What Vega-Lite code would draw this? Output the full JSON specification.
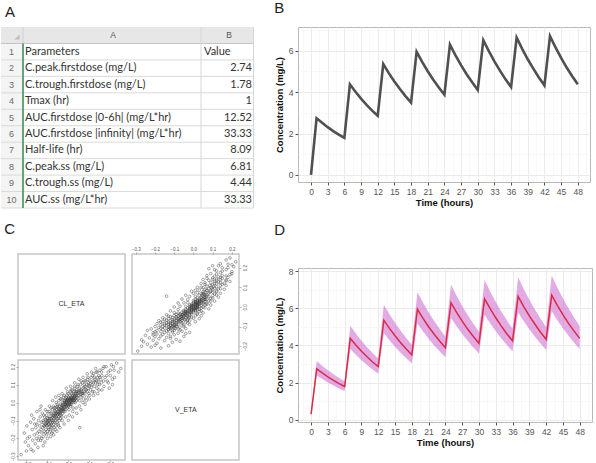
{
"$schema":"https://vega.github.io/schema/vega-lite/v6.json",
"background":"white",
"padding":{"left":0,"top":0,"right":0,"bottom":0},
"config":{"font":"Liberation Sans","view":{"stroke":"#b8b8b8"},"title":{"font":"Liberation Sans","fontSize":15,"fontWeight":"normal","anchor":"start","color":"#222222","baseline":"alphabetic"}},
"datasets":{
"tbl":[
{"row":1,"param":"Parameters","value":"Value"},
{"row":2,"param":"C.peak.firstdose (mg/L)","value":"2.74"},
{"row":3,"param":"C.trough.firstdose (mg/L)","value":"1.78"},
{"row":4,"param":"Tmax (hr)","value":"1"},
{"row":5,"param":"AUC.firstdose |0-6h| (mg/L*hr)","value":"12.52"},
{"row":6,"param":"AUC.firstdose |infinity| (mg/L*hr)","value":"33.33"},
{"row":7,"param":"Half-life (hr)","value":"8.09"},
{"row":8,"param":"C.peak.ss (mg/L)","value":"6.81"},
{"row":9,"param":"C.trough.ss (mg/L)","value":"4.44"},
{"row":10,"param":"AUC.ss (mg/L*hr)","value":"33.33"}],
"pk":[
{"t":0,"c":0,"cd":0.3,"lo":0.26,"hi":0.34},
{"t":1,"c":2.74,"cd":2.74,"lo":2.38,"hi":3.16},
{"t":2,"c":2.52,"cd":2.52,"lo":2.19,"hi":2.9},
{"t":3,"c":2.31,"cd":2.31,"lo":2.01,"hi":2.67},
{"t":4,"c":2.12,"cd":2.12,"lo":1.84,"hi":2.45},
{"t":5,"c":1.95,"cd":1.95,"lo":1.69,"hi":2.25},
{"t":6,"c":1.79,"cd":1.79,"lo":1.55,"hi":2.06},
{"t":7,"c":4.38,"cd":4.38,"lo":3.81,"hi":5.06},
{"t":8,"c":4.02,"cd":4.02,"lo":3.5,"hi":4.64},
{"t":9,"c":3.69,"cd":3.69,"lo":3.21,"hi":4.26},
{"t":10,"c":3.39,"cd":3.39,"lo":2.95,"hi":3.91},
{"t":11,"c":3.11,"cd":3.11,"lo":2.71,"hi":3.59},
{"t":12,"c":2.86,"cd":2.86,"lo":2.48,"hi":3.3},
{"t":13,"c":5.36,"cd":5.36,"lo":4.66,"hi":6.19},
{"t":14,"c":4.92,"cd":4.92,"lo":4.28,"hi":5.68},
{"t":15,"c":4.52,"cd":4.52,"lo":3.93,"hi":5.22},
{"t":16,"c":4.15,"cd":4.15,"lo":3.61,"hi":4.79},
{"t":17,"c":3.81,"cd":3.81,"lo":3.31,"hi":4.4},
{"t":18,"c":3.5,"cd":3.5,"lo":3.04,"hi":4.04},
{"t":19,"c":5.95,"cd":5.95,"lo":5.18,"hi":6.87},
{"t":20,"c":5.46,"cd":5.46,"lo":4.75,"hi":6.31},
{"t":21,"c":5.01,"cd":5.01,"lo":4.36,"hi":5.79},
{"t":22,"c":4.6,"cd":4.6,"lo":4.0,"hi":5.32},
{"t":23,"c":4.23,"cd":4.23,"lo":3.68,"hi":4.88},
{"t":24,"c":3.88,"cd":3.88,"lo":3.37,"hi":4.48},
{"t":25,"c":6.3,"cd":6.3,"lo":5.48,"hi":7.28},
{"t":26,"c":5.78,"cd":5.78,"lo":5.03,"hi":6.68},
{"t":27,"c":5.31,"cd":5.31,"lo":4.62,"hi":6.13},
{"t":28,"c":4.87,"cd":4.87,"lo":4.24,"hi":5.63},
{"t":29,"c":4.48,"cd":4.48,"lo":3.89,"hi":5.17},
{"t":30,"c":4.11,"cd":4.11,"lo":3.57,"hi":4.74},
{"t":31,"c":6.51,"cd":6.51,"lo":5.66,"hi":7.52},
{"t":32,"c":5.98,"cd":5.98,"lo":5.2,"hi":6.9},
{"t":33,"c":5.49,"cd":5.49,"lo":4.77,"hi":6.34},
{"t":34,"c":5.04,"cd":5.04,"lo":4.38,"hi":5.82},
{"t":35,"c":4.62,"cd":4.62,"lo":4.02,"hi":5.34},
{"t":36,"c":4.25,"cd":4.25,"lo":3.69,"hi":4.9},
{"t":37,"c":6.64,"cd":6.64,"lo":5.77,"hi":7.67},
{"t":38,"c":6.09,"cd":6.09,"lo":5.3,"hi":7.04},
{"t":39,"c":5.59,"cd":5.59,"lo":4.87,"hi":6.46},
{"t":40,"c":5.14,"cd":5.14,"lo":4.47,"hi":5.93},
{"t":41,"c":4.71,"cd":4.71,"lo":4.1,"hi":5.44},
{"t":42,"c":4.33,"cd":4.33,"lo":3.76,"hi":5.0},
{"t":43,"c":6.71,"cd":6.71,"lo":5.84,"hi":7.75},
{"t":44,"c":6.16,"cd":6.16,"lo":5.36,"hi":7.12},
{"t":45,"c":5.66,"cd":5.66,"lo":4.92,"hi":6.53},
{"t":46,"c":5.19,"cd":5.19,"lo":4.52,"hi":6.0},
{"t":47,"c":4.77,"cd":4.77,"lo":4.15,"hi":5.51},
{"t":48,"c":4.38,"cd":4.38,"lo":3.81,"hi":5.05}],
"eta":[
{"cl":-0.225,"v":-0.29},{"cl":-0.21,"v":-0.17},{"cl":-0.205,"v":-0.22},{"cl":-0.198,"v":-0.13},{"cl":-0.19,"v":-0.24},{"cl":-0.185,"v":-0.19},{"cl":-0.18,"v":-0.11},{"cl":-0.178,"v":-0.26},{"cl":-0.172,"v":-0.15},{"cl":-0.17,"v":-0.21},{"cl":-0.165,"v":-0.09},{"cl":-0.162,"v":-0.18},{"cl":-0.158,"v":-0.23},{"cl":-0.155,"v":-0.14},{"cl":-0.152,"v":-0.2},{"cl":-0.15,"v":-0.12},{"cl":-0.148,"v":-0.17},{"cl":-0.145,"v":-0.25},{"cl":-0.142,"v":-0.1},{"cl":-0.14,"v":-0.16},
{"cl":-0.138,"v":-0.19},{"cl":-0.136,"v":-0.13},{"cl":-0.134,"v":-0.08},{"cl":-0.132,"v":-0.21},{"cl":-0.13,"v":-0.15},{"cl":-0.128,"v":-0.11},{"cl":-0.126,"v":-0.17},{"cl":-0.124,"v":-0.06},{"cl":-0.122,"v":-0.14},{"cl":-0.12,"v":-0.19},{"cl":-0.119,"v":-0.1},{"cl":-0.117,"v":-0.13},{"cl":-0.115,"v":-0.16},{"cl":-0.113,"v":-0.08},{"cl":-0.112,"v":-0.22},{"cl":-0.11,"v":-0.12},{"cl":-0.108,"v":-0.15},{"cl":-0.106,"v":-0.1},{"cl":-0.105,"v":-0.18},{"cl":-0.103,"v":-0.07},{"cl":-0.102,"v":-0.13},{"cl":-0.1,"v":-0.11},{"cl":-0.099,"v":-0.16},{"cl":-0.097,"v":-0.09},{"cl":-0.096,"v":-0.14},{"cl":-0.094,"v":-0.12},{"cl":-0.093,"v":-0.05},{"cl":-0.091,"v":-0.17},{"cl":-0.09,"v":-0.1},{"cl":-0.088,"v":-0.13},{"cl":-0.087,"v":-0.08},{"cl":-0.085,"v":-0.15},{"cl":-0.084,"v":-0.11},{"cl":-0.083,"v":-0.03},{"cl":-0.082,"v":-0.12},{"cl":-0.081,"v":-0.09},{"cl":-0.08,"v":-0.14},{"cl":-0.08,"v":-0.06},{"cl":-0.079,"v":-0.1},
{"cl":-0.078,"v":-0.13},{"cl":-0.077,"v":-0.04},{"cl":-0.076,"v":-0.08},{"cl":-0.075,"v":-0.11},{"cl":-0.074,"v":-0.16},{"cl":-0.073,"v":-0.07},{"cl":-0.072,"v":-0.1},{"cl":-0.071,"v":-0.02},{"cl":-0.07,"v":-0.12},{"cl":-0.069,"v":-0.09},{"cl":-0.068,"v":-0.06},{"cl":-0.067,"v":-0.14},{"cl":-0.066,"v":-0.08},{"cl":-0.065,"v":-0.11},{"cl":-0.064,"v":-0.03},{"cl":-0.063,"v":-0.07},{"cl":-0.062,"v":-0.1},{"cl":-0.061,"v":-0.05},{"cl":-0.06,"v":-0.13},{"cl":-0.059,"v":-0.08},{"cl":-0.058,"v":0.0},{"cl":-0.057,"v":-0.06},{"cl":-0.056,"v":-0.09},{"cl":-0.055,"v":-0.04},{"cl":-0.054,"v":-0.11},{"cl":-0.053,"v":-0.07},{"cl":-0.052,"v":-0.02},{"cl":-0.051,"v":-0.05},{"cl":-0.05,"v":-0.09},{"cl":-0.049,"v":-0.12},{"cl":-0.048,"v":-0.03},{"cl":-0.047,"v":-0.06},{"cl":-0.046,"v":-0.08},{"cl":-0.045,"v":0.01},{"cl":-0.044,"v":-0.05},{"cl":-0.043,"v":-0.1},{"cl":-0.042,"v":-0.04},{"cl":-0.041,"v":-0.07},{"cl":-0.04,"v":-0.02},{"cl":-0.039,"v":-0.06},{"cl":-0.038,"v":-0.09},{"cl":-0.037,"v":-0.01},{"cl":-0.036,"v":-0.04},{"cl":-0.035,"v":-0.07},{"cl":-0.034,"v":0.02},{"cl":-0.033,"v":-0.03},{"cl":-0.032,"v":-0.05},{"cl":-0.031,"v":-0.08},{"cl":-0.03,"v":-0.02},{"cl":-0.029,"v":-0.04},{"cl":-0.028,"v":0.0},{"cl":-0.027,"v":-0.06},{"cl":-0.026,"v":-0.03},{"cl":-0.025,"v":-0.01},{"cl":-0.024,"v":-0.05},{"cl":-0.023,"v":0.03},{"cl":-0.022,"v":-0.02},{"cl":-0.021,"v":-0.04},{"cl":-0.02,"v":0.0},
{"cl":-0.019,"v":-0.03},{"cl":-0.018,"v":0.01},{"cl":-0.017,"v":-0.05},{"cl":-0.016,"v":-0.01},{"cl":-0.015,"v":0.02},{"cl":-0.014,"v":-0.02},{"cl":-0.013,"v":0.0},{"cl":-0.012,"v":-0.04},{"cl":-0.011,"v":0.03},{"cl":-0.01,"v":-0.01},{"cl":-0.009,"v":0.01},{"cl":-0.008,"v":-0.02},{"cl":-0.007,"v":0.04},{"cl":-0.006,"v":0.0},{"cl":-0.005,"v":-0.03},{"cl":-0.004,"v":0.02},{"cl":-0.003,"v":-0.01},{"cl":-0.002,"v":0.01},{"cl":-0.001,"v":0.05},{"cl":0.0,"v":-0.02},{"cl":0.001,"v":0.0},{"cl":0.002,"v":0.03},{"cl":0.003,"v":-0.04},{"cl":0.004,"v":0.01},{"cl":0.005,"v":0.02},{"cl":0.006,"v":-0.01},{"cl":0.007,"v":0.04},{"cl":0.008,"v":0.0},{"cl":0.009,"v":0.02},{"cl":0.01,"v":-0.02},{"cl":0.011,"v":0.06},{"cl":0.012,"v":0.01},{"cl":0.013,"v":0.03},{"cl":0.014,"v":-0.01},{"cl":0.015,"v":0.02},{"cl":0.016,"v":0.05},{"cl":0.017,"v":0.0},{"cl":0.018,"v":0.03},{"cl":0.019,"v":0.07},{"cl":0.02,"v":0.01},{"cl":0.021,"v":0.04},{"cl":0.022,"v":-0.03},{"cl":0.023,"v":0.02},{"cl":0.024,"v":0.05},{"cl":0.025,"v":0.0},{"cl":0.026,"v":0.03},{"cl":0.027,"v":0.06},{"cl":0.028,"v":0.01},{"cl":0.029,"v":0.04},{"cl":0.03,"v":0.02},{"cl":0.031,"v":0.08},{"cl":0.032,"v":0.03},{"cl":0.033,"v":0.0},{"cl":0.034,"v":0.05},{"cl":0.035,"v":0.02},{"cl":0.036,"v":0.06},{"cl":0.037,"v":0.04},{"cl":0.038,"v":0.01},{"cl":0.039,"v":0.07},
{"cl":0.04,"v":0.03},{"cl":0.042,"v":0.05},{"cl":0.044,"v":0.09},{"cl":0.046,"v":0.02},{"cl":0.048,"v":0.06},{"cl":0.05,"v":0.04},{"cl":0.052,"v":0.08},{"cl":0.054,"v":0.01},{"cl":0.055,"v":-0.14},{"cl":0.056,"v":0.06},{"cl":0.058,"v":0.1},{"cl":0.06,"v":0.03},{"cl":0.062,"v":0.07},{"cl":0.064,"v":0.05},{"cl":0.066,"v":0.11},{"cl":0.068,"v":0.04},{"cl":0.07,"v":0.08},{"cl":0.072,"v":0.02},{"cl":0.074,"v":0.06},{"cl":0.076,"v":0.1},{"cl":0.078,"v":0.05},{"cl":0.08,"v":0.09},{"cl":0.082,"v":0.12},{"cl":0.084,"v":0.07},{"cl":0.086,"v":0.03},{"cl":0.088,"v":0.1},{"cl":0.09,"v":0.06},{"cl":0.092,"v":0.13},{"cl":0.094,"v":0.08},{"cl":0.096,"v":0.11},{"cl":0.098,"v":0.05},
{"cl":0.1,"v":0.09},{"cl":0.103,"v":0.12},{"cl":0.106,"v":0.07},{"cl":0.109,"v":0.14},{"cl":0.112,"v":0.1},{"cl":0.115,"v":0.06},{"cl":0.118,"v":0.12},{"cl":0.121,"v":0.16},{"cl":0.124,"v":0.09},{"cl":0.127,"v":0.13},{"cl":0.13,"v":0.11},{"cl":0.133,"v":0.17},{"cl":0.136,"v":0.08},{"cl":0.139,"v":0.14},{"cl":0.142,"v":0.12},{"cl":0.145,"v":0.15},{"cl":0.148,"v":0.1},{"cl":0.151,"v":0.18},{"cl":0.154,"v":0.13},{"cl":0.157,"v":0.11},
{"cl":0.16,"v":0.15},{"cl":0.165,"v":0.19},{"cl":0.17,"v":0.09},{"cl":0.175,"v":0.14},{"cl":0.18,"v":0.2},{"cl":0.185,"v":0.12},{"cl":0.19,"v":0.17},{"cl":0.195,"v":0.08},{"cl":0.2,"v":0.15},{"cl":0.205,"v":0.21},{"cl":0.21,"v":0.1},{"cl":0.218,"v":0.18},{"cl":0.23,"v":0.22},{"cl":0.24,"v":0.17},{"cl":0.215,"v":0.2},
{"cl":-0.105,"v":-0.115},{"cl":-0.098,"v":-0.105},{"cl":-0.11,"v":-0.095},{"cl":-0.092,"v":-0.12},{"cl":-0.1,"v":-0.085},{"cl":-0.115,"v":-0.13},{"cl":-0.095,"v":-0.1},{"cl":-0.088,"v":-0.09},{"cl":-0.12,"v":-0.11},{"cl":-0.107,"v":-0.125},
{"cl":-0.01,"v":0.005},{"cl":0.005,"v":-0.005},{"cl":-0.005,"v":0.015},{"cl":0.012,"v":0.008},{"cl":-0.015,"v":-0.01},{"cl":0.0,"v":0.02},{"cl":0.018,"v":0.015},{"cl":-0.02,"v":0.01},{"cl":0.008,"v":-0.012},{"cl":0.015,"v":0.025},{"cl":-0.008,"v":-0.018},{"cl":0.025,"v":0.012},{"cl":0.03,"v":0.035},{"cl":0.045,"v":0.04},{"cl":0.05,"v":0.055},{"cl":0.06,"v":0.045},{"cl":0.055,"v":0.07},{"cl":0.065,"v":0.06},{"cl":0.07,"v":0.05},{"cl":0.04,"v":0.06},
{"cl":0.075,"v":0.085},{"cl":0.085,"v":0.07},{"cl":0.095,"v":0.095},{"cl":0.105,"v":0.105},{"cl":0.11,"v":0.085},{"cl":0.12,"v":0.11},{"cl":0.125,"v":0.14},{"cl":0.135,"v":0.12},{"cl":0.14,"v":0.1},{"cl":0.15,"v":0.14},
{"cl":-0.06,"v":-0.06},{"cl":-0.05,"v":-0.065},{"cl":-0.045,"v":-0.035},{"cl":-0.07,"v":-0.075},{"cl":-0.035,"v":-0.045},{"cl":-0.055,"v":-0.025},{"cl":-0.065,"v":-0.045},{"cl":-0.04,"v":-0.055},{"cl":-0.03,"v":-0.015},{"cl":-0.025,"v":-0.035},
{"cl":-0.15,"v":-0.05},{"cl":-0.13,"v":-0.02},{"cl":-0.12,"v":-0.24},{"cl":-0.11,"v":-0.04},{"cl":-0.1,"v":-0.2},{"cl":-0.09,"v":-0.02},{"cl":-0.085,"v":-0.19},{"cl":-0.075,"v":0.01},{"cl":-0.07,"v":-0.18},{"cl":-0.06,"v":0.03},{"cl":-0.055,"v":-0.16},{"cl":-0.045,"v":0.04},{"cl":-0.04,"v":-0.14},{"cl":-0.03,"v":0.05},{"cl":-0.02,"v":-0.12},{"cl":-0.01,"v":0.08},{"cl":0.0,"v":-0.1},{"cl":0.01,"v":0.09},{"cl":0.02,"v":-0.08},{"cl":0.03,"v":0.11},{"cl":0.04,"v":-0.06},{"cl":0.05,"v":0.13},{"cl":0.06,"v":-0.04},{"cl":0.07,"v":0.14},{"cl":0.08,"v":-0.01},{"cl":0.09,"v":0.16},{"cl":0.1,"v":0.02},{"cl":0.11,"v":0.17},{"cl":0.12,"v":0.04},{"cl":0.13,"v":0.19},{"cl":0.14,"v":0.05},{"cl":0.16,"v":0.07},{"cl":0.17,"v":0.2},{"cl":0.19,"v":0.11},{"cl":0.22,"v":0.14},{"cl":0.25,"v":0.19},
{"cl":-0.2,"v":-0.27},{"cl":-0.195,"v":-0.2},{"cl":-0.175,"v":-0.07},{"cl":-0.168,"v":-0.27},{"cl":-0.16,"v":-0.12},{"cl":-0.143,"v":-0.21},{"cl":-0.135,"v":-0.04},{"cl":-0.127,"v":-0.2},{"cl":-0.118,"v":-0.07},{"cl":-0.109,"v":-0.17},{"cl":-0.101,"v":-0.05},{"cl":-0.093,"v":-0.15},{"cl":-0.086,"v":-0.06},{"cl":-0.078,"v":-0.17},{"cl":-0.069,"v":-0.03},{"cl":-0.062,"v":-0.15},{"cl":-0.053,"v":-0.01},{"cl":-0.047,"v":-0.13},{"cl":-0.038,"v":0.02},{"cl":-0.029,"v":-0.1},{"cl":-0.021,"v":0.04},{"cl":-0.013,"v":-0.08},{"cl":-0.004,"v":0.06},{"cl":0.004,"v":-0.07},{"cl":0.013,"v":0.07},{"cl":0.021,"v":-0.05},{"cl":0.029,"v":0.09},{"cl":0.037,"v":-0.03},{"cl":0.045,"v":0.1},{"cl":0.053,"v":-0.02},{"cl":0.061,"v":0.12},{"cl":0.069,"v":0.0},{"cl":0.077,"v":0.12},{"cl":0.085,"v":0.01},{"cl":0.093,"v":0.14},{"cl":0.101,"v":0.04},{"cl":0.115,"v":0.15},{"cl":0.123,"v":0.06},{"cl":0.138,"v":0.17},{"cl":0.146,"v":0.07},{"cl":0.158,"v":0.17},{"cl":0.168,"v":0.12},{"cl":0.183,"v":0.15},{"cl":0.2,"v":0.18},{"cl":0.21,"v":0.13}]
},
"bounds":"flush",
"spacing":280,
"hconcat":[
{"vconcat":[
 {"title":{"text":"A","offset":7,"dx":-13,"frame":"group"},
  "width":236,"height":181,
  "view":{"stroke":null},
  "data":{"name":"tbl"},
  "layer":[
   {"data":{"values":[{}]},"mark":{"type":"rect","color":"#e7e7e7"},
    "encoding":{"x":{"datum":0,"type":"quantitative","scale":{"domain":[17,253],"nice":false,"zero":false},"axis":null},"x2":{"datum":253},
                "y":{"datum":-0.5,"type":"quantitative","scale":{"domain":[-0.5,10.5],"nice":false,"zero":false,"reverse":true},"axis":null},"y2":{"datum":0.5}}},
   {"data":{"values":[{}]},"mark":{"type":"rect","color":"#f4f4f4"},
    "encoding":{"x":{"datum":0,"type":"quantitative","scale":{"domain":[17,253],"nice":false,"zero":false},"axis":null},"x2":{"datum":22},
                "y":{"datum":0.5,"type":"quantitative","scale":{"domain":[-0.5,10.5],"nice":false,"zero":false,"reverse":true},"axis":null},"y2":{"datum":10.5}}},
   {"mark":{"type":"rule","color":"#dadada","strokeWidth":1,"yOffset":8.24},
    "encoding":{"x":{"datum":0,"type":"quantitative","scale":{"domain":[17,253],"nice":false,"zero":false},"axis":null},"x2":{"datum":253},
                "y":{"field":"row","type":"quantitative","scale":{"domain":[-0.5,10.5],"nice":false,"zero":false,"reverse":true},"axis":null}}},
   {"data":{"values":[{}]},"mark":{"type":"rule","color":"#c4c4c4","strokeWidth":1},
    "encoding":{"x":{"datum":0,"type":"quantitative","scale":{"domain":[17,253],"nice":false,"zero":false},"axis":null},"x2":{"datum":253},
                "y":{"datum":0.5,"type":"quantitative","scale":{"domain":[-0.5,10.5],"nice":false,"zero":false,"reverse":true},"axis":null}}},
   {"data":{"values":[{}]},"mark":{"type":"rule","color":"#d6d6d6","strokeWidth":1},
    "encoding":{"x":{"datum":200,"type":"quantitative","scale":{"domain":[17,253],"nice":false,"zero":false},"axis":null},
                "y":{"datum":-0.5,"type":"quantitative","scale":{"domain":[-0.5,10.5],"nice":false,"zero":false,"reverse":true},"axis":null},"y2":{"datum":10.5}}},
   {"data":{"values":[{}]},"mark":{"type":"rule","color":"#d6d6d6","strokeWidth":1},
    "encoding":{"x":{"datum":252.5,"type":"quantitative","scale":{"domain":[17,253],"nice":false,"zero":false},"axis":null},
                "y":{"datum":-0.5,"type":"quantitative","scale":{"domain":[-0.5,10.5],"nice":false,"zero":false,"reverse":true},"axis":null},"y2":{"datum":10.5}}},
   {"data":{"values":[{}]},"mark":{"type":"rule","color":"#d0d0d0","strokeWidth":1},
    "encoding":{"x":{"datum":22,"type":"quantitative","scale":{"domain":[17,253],"nice":false,"zero":false},"axis":null},
                "y":{"datum":-0.5,"type":"quantitative","scale":{"domain":[-0.5,10.5],"nice":false,"zero":false,"reverse":true},"axis":null},"y2":{"datum":0.5}}},
   {"data":{"values":[{}]},"mark":{"type":"rule","color":"#3f8f5c","strokeWidth":1.6},
    "encoding":{"x":{"datum":22,"type":"quantitative","scale":{"domain":[17,253],"nice":false,"zero":false},"axis":null},
                "y":{"datum":0.5,"type":"quantitative","scale":{"domain":[-0.5,10.5],"nice":false,"zero":false,"reverse":true},"axis":null},"y2":{"datum":10.5}}},
   {"data":{"values":[{}]},"mark":{"type":"point","shape":"M1,-1L1,1L-1,1Z","filled":true,"color":"#c2c2c2","size":30,"opacity":1},
    "encoding":{"x":{"datum":16,"type":"quantitative","scale":{"domain":[17,253],"nice":false,"zero":false},"axis":null},
                "y":{"datum":0.1,"type":"quantitative","scale":{"domain":[-0.5,10.5],"nice":false,"zero":false,"reverse":true},"axis":null}}},
   {"data":{"values":[{}]},"mark":{"type":"text","text":"A","font":"Liberation Sans","fontSize":8.5,"color":"#555555","align":"center","baseline":"middle"},
    "encoding":{"x":{"datum":112,"type":"quantitative","scale":{"domain":[17,253],"nice":false,"zero":false},"axis":null},
                "y":{"datum":0,"type":"quantitative","scale":{"domain":[-0.5,10.5],"nice":false,"zero":false,"reverse":true},"axis":null}}},
   {"data":{"values":[{}]},"mark":{"type":"text","text":"B","font":"Liberation Sans","fontSize":8.5,"color":"#555555","align":"center","baseline":"middle"},
    "encoding":{"x":{"datum":228,"type":"quantitative","scale":{"domain":[17,253],"nice":false,"zero":false},"axis":null},
                "y":{"datum":0,"type":"quantitative","scale":{"domain":[-0.5,10.5],"nice":false,"zero":false,"reverse":true},"axis":null}}},
   {"mark":{"type":"text","font":"Liberation Sans","fontSize":9,"color":"#6a6a6a","align":"center","baseline":"middle"},
    "encoding":{"x":{"datum":10.5,"type":"quantitative","scale":{"domain":[17,253],"nice":false,"zero":false},"axis":null},
                "y":{"field":"row","type":"quantitative","scale":{"domain":[-0.5,10.5],"nice":false,"zero":false,"reverse":true},"axis":null},
                "text":{"field":"row"}}},
   {"mark":{"type":"text","font":"Lato","fontSize":11,"color":"#333333","align":"left","baseline":"middle"},
    "encoding":{"x":{"datum":24,"type":"quantitative","scale":{"domain":[17,253],"nice":false,"zero":false},"axis":null},
                "y":{"field":"row","type":"quantitative","scale":{"domain":[-0.5,10.5],"nice":false,"zero":false,"reverse":true},"axis":null},
                "text":{"field":"param"}}},
   {"transform":[{"filter":"datum.row > 1"}],
    "mark":{"type":"text","font":"Lato","fontSize":11,"color":"#333333","align":"right","baseline":"middle"},
    "encoding":{"x":{"datum":251,"type":"quantitative","scale":{"domain":[17,253],"nice":false,"zero":false},"axis":null},
                "y":{"field":"row","type":"quantitative","scale":{"domain":[-0.5,10.5],"nice":false,"zero":false,"reverse":true},"axis":null},
                "text":{"field":"value"}}},
   {"transform":[{"filter":"datum.row == 1"}],
    "mark":{"type":"text","font":"Lato","fontSize":11,"color":"#333333","align":"left","baseline":"middle"},
    "encoding":{"x":{"datum":203,"type":"quantitative","scale":{"domain":[17,253],"nice":false,"zero":false},"axis":null},
                "y":{"field":"row","type":"quantitative","scale":{"domain":[-0.5,10.5],"nice":false,"zero":false,"reverse":true},"axis":null},
                "text":{"field":"value"}}}
  ]},
 {"title":{"text":"C","offset":8,"dx":4},
  "columns":2,"spacing":4,
  "concat":[
   {"width":107,"height":100,"view":{"stroke":"#c6c6c6","strokeWidth":1.5},
    "data":{"values":[{}]},
    "mark":{"type":"text","text":"CL_ETA","font":"Liberation Sans","fontSize":7,"color":"#333333"},
    "encoding":{
     "x":{"datum":0.015,"type":"quantitative","scale":{"domain":[-0.24,0.27],"nice":false,"zero":false},
          "axis":{"orient":"top","values":[-0.2,-0.1,0,0.1,0.2],"format":".1f","title":null,"grid":false,"domain":false,"tickSize":2,"tickWidth":0.5,"tickOpacity":0,"labelOpacity":0,"labelFontSize":4.5,"labelPadding":1}},
     "y":{"datum":0.015,"type":"quantitative","scale":{"domain":[-0.24,0.27],"nice":false,"zero":false},
          "axis":{"orient":"left","values":[-0.2,-0.1,0,0.1,0.2],"format":".1f","title":"x","titleOpacity":0,"titleFontSize":6,"titlePadding":3,"grid":false,"domain":false,"tickSize":2,"tickWidth":0.5,"tickOpacity":0,"labelOpacity":0,"labelFontSize":4.5,"labelPadding":1,"labelAngle":270}}}},
   {"width":107,"height":100,"view":{"stroke":"#c6c6c6","strokeWidth":1.5},
    "data":{"name":"eta"},
    "mark":{"type":"point","filled":false,"color":"#333333","strokeWidth":0.5,"size":7,"opacity":0.85},
    "encoding":{
     "x":{"field":"v","type":"quantitative","scale":{"domain":[-0.32,0.237],"nice":false,"zero":false},
          "axis":{"orient":"top","values":[-0.3,-0.2,-0.1,0,0.1,0.2],"format":".1f","title":null,"grid":false,"domain":false,"tickSize":2,"tickWidth":0.5,"tickColor":"#777777","labelColor":"#555555","labelFontSize":4.5,"labelPadding":1}},
     "y":{"field":"cl","type":"quantitative","scale":{"domain":[-0.24,0.27],"nice":false,"zero":false},
          "axis":{"orient":"right","values":[-0.2,-0.1,0,0.1,0.2],"format":".1f","title":null,"grid":false,"domain":false,"tickSize":2,"tickWidth":0.5,"tickColor":"#777777","labelColor":"#555555","labelFontSize":4.5,"labelPadding":1,"labelAngle":270}}}},
   {"width":107,"height":100,"view":{"stroke":"#c6c6c6","strokeWidth":1.5},
    "data":{"name":"eta"},
    "mark":{"type":"point","filled":false,"color":"#333333","strokeWidth":0.5,"size":7,"opacity":0.85},
    "encoding":{
     "x":{"field":"cl","type":"quantitative","scale":{"domain":[-0.24,0.27],"nice":false,"zero":false},
          "axis":{"orient":"bottom","values":[-0.2,-0.1,0,0.1,0.2],"format":".1f","title":null,"grid":false,"domain":false,"tickSize":1.5,"tickWidth":0.5,"tickColor":"#777777","labelColor":"#555555","labelFontSize":4.5,"labelPadding":0}},
     "y":{"field":"v","type":"quantitative","scale":{"domain":[-0.32,0.237],"nice":false,"zero":false},
          "axis":{"orient":"left","values":[-0.3,-0.2,-0.1,0,0.1,0.2],"format":".1f","title":"x","titleOpacity":0,"titleFontSize":6,"titlePadding":3,"grid":false,"domain":false,"tickSize":2,"tickWidth":0.5,"tickColor":"#777777","labelColor":"#555555","labelFontSize":4.5,"labelPadding":1,"labelAngle":270}}}},
   {"width":107,"height":100,"view":{"stroke":"#c6c6c6","strokeWidth":1.5},
    "data":{"values":[{}]},
    "mark":{"type":"text","text":"V_ETA","font":"Liberation Sans","fontSize":7,"color":"#333333"},
    "encoding":{
     "x":{"datum":-0.04,"type":"quantitative","scale":{"domain":[-0.32,0.237],"nice":false,"zero":false},"axis":null},
     "y":{"datum":-0.04,"type":"quantitative","scale":{"domain":[-0.32,0.237],"nice":false,"zero":false},"axis":null}}}
  ]}
 ],"spacing":13},
{"vconcat":[
 {"title":{"text":"B","offset":11,"frame":"bounds"},
  "width":292,"height":155,
  "data":{"name":"pk"},
  "resolve":{"axis":{"x":"independent","y":"independent"}},
  "layer":[
   {"mark":{"type":"line","opacity":0},
    "encoding":{
     "x":{"field":"t","type":"quantitative","scale":{"domain":[-2.34,50.2],"nice":false,"zero":false},
          "axis":{"orient":"top","values":[-1.5,1.5,4.5,7.5,10.5,13.5,16.5,19.5,22.5,25.5,28.5,31.5,34.5,37.5,40.5,43.5,46.5,49.5],"grid":true,"gridColor":"#f3f3f3","gridWidth":0.6,"labels":false,"ticks":false,"domain":false,"title":null}},
     "y":{"field":"c","type":"quantitative","scale":{"domain":[-0.34,7.15],"nice":false,"zero":false},
          "axis":{"orient":"right","values":[1,3,5,7],"grid":true,"gridColor":"#f3f3f3","gridWidth":0.6,"labels":false,"ticks":false,"domain":false,"title":null}}}},
   {"mark":{"type":"line","color":"#505050","strokeWidth":2.6},
    "encoding":{
     "x":{"field":"t","type":"quantitative","scale":{"domain":[-2.34,50.2],"nice":false,"zero":false},
          "axis":{"values":[0,3,6,9,12,15,18,21,24,27,30,33,36,39,42,45,48],"title":"Time (hours)","grid":true,"gridColor":"#ebebeb","gridWidth":1,"domain":false,"tickColor":"#555555","tickSize":3,"labelColor":"#555555","labelFontSize":8.5,"labelPadding":2,"titleFontSize":9.5,"titleFontWeight":"bold","titleColor":"#111111","titlePadding":2}},
     "y":{"field":"c","type":"quantitative","scale":{"domain":[-0.34,7.15],"nice":false,"zero":false},
          "axis":{"values":[0,2,4,6],"title":"Concentration (mg/L)","grid":true,"gridColor":"#ebebeb","gridWidth":1,"domain":false,"tickColor":"#555555","tickSize":3,"labelColor":"#555555","labelFontSize":8.5,"labelPadding":2,"titleFontSize":9.5,"titleFontWeight":"bold","titleColor":"#111111","titlePadding":4}}}}
  ]},
 {"title":{"text":"D","offset":29,"frame":"bounds"},
  "width":294,"height":154,
  "data":{"name":"pk"},
  "resolve":{"axis":{"x":"independent","y":"independent"}},
  "layer":[
   {"mark":{"type":"line","opacity":0},
    "encoding":{
     "x":{"field":"t","type":"quantitative","scale":{"domain":[-2.34,50.2],"nice":false,"zero":false},
          "axis":{"orient":"top","values":[-1.5,1.5,4.5,7.5,10.5,13.5,16.5,19.5,22.5,25.5,28.5,31.5,34.5,37.5,40.5,43.5,46.5,49.5],"grid":true,"gridColor":"#f3f3f3","gridWidth":0.6,"labels":false,"ticks":false,"domain":false,"title":null}},
     "y":{"field":"cd","type":"quantitative","scale":{"domain":[-0.12,8.17],"nice":false,"zero":false},
          "axis":{"orient":"right","values":[1,3,5,7],"grid":true,"gridColor":"#f3f3f3","gridWidth":0.6,"labels":false,"ticks":false,"domain":false,"title":null}}}},
   {"mark":{"type":"area","color":"#cc66cc","opacity":0.55},
    "encoding":{
     "x":{"field":"t","type":"quantitative","scale":{"domain":[-2.34,50.2],"nice":false,"zero":false},"axis":null},
     "y":{"field":"lo","type":"quantitative","scale":{"domain":[-0.12,8.17],"nice":false,"zero":false},"axis":null},
     "y2":{"field":"hi"}}},
   {"mark":{"type":"line","color":"#dc2a45","strokeWidth":1.5},
    "encoding":{
     "x":{"field":"t","type":"quantitative","scale":{"domain":[-2.34,50.2],"nice":false,"zero":false},
          "axis":{"values":[0,3,6,9,12,15,18,21,24,27,30,33,36,39,42,45,48],"title":"Time (hours)","grid":true,"gridColor":"#ebebeb","gridWidth":1,"domain":false,"tickColor":"#555555","tickSize":3,"labelColor":"#555555","labelFontSize":8.5,"labelPadding":2,"titleFontSize":9.5,"titleFontWeight":"bold","titleColor":"#111111","titlePadding":2}},
     "y":{"field":"cd","type":"quantitative","scale":{"domain":[-0.12,8.17],"nice":false,"zero":false},
          "axis":{"values":[0,2,4,6,8],"title":"Concentration (mg/L)","grid":true,"gridColor":"#ebebeb","gridWidth":1,"domain":false,"tickColor":"#555555","tickSize":3,"labelColor":"#555555","labelFontSize":8.5,"labelPadding":2,"titleFontSize":9.5,"titleFontWeight":"bold","titleColor":"#111111","titlePadding":4}}}}
  ]}
 ],"spacing":14}
]
}
